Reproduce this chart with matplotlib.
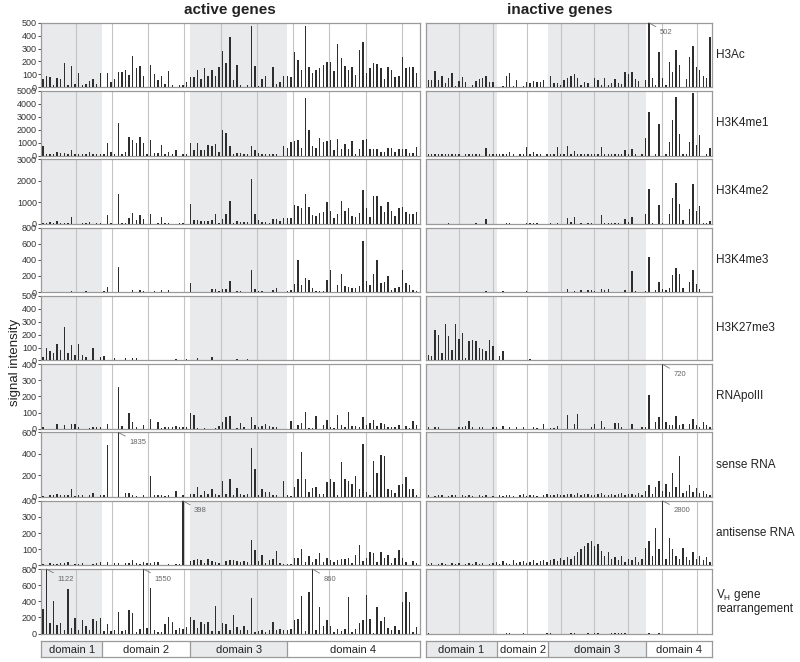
import numpy as np
import matplotlib
matplotlib.use("Agg")
import matplotlib.pyplot as plt

plt.rcParams['font.family'] = ['Liberation Sans', 'DejaVu Sans']

# ---- data: one value per probe position (active: 105, inactive: 84) ----
h3ac_act = [60,90,80,20,72,67,184,20,168,28, 108,20,28,46,65,23,108,0,108,44,
            60,116,116,137,98,240,145,168,85,0, 173,101,52,88,28,122,20,0,20,18,
            41,80,80,132,60,145,85,137,88,160, 277,189,386,52,173,20,0,18,476,168,
            13,60,90,0,160,28,41,85,85,80, 272,212,137,476,153,108,137,150,173,194,
            199,124,337,225,168,132,160,93,285,350, 108,145,189,181,145,62,160,132,80,88,
            236,145,160,153,111]
h3k4me1_act = [700,100,100,100,260,180,180,100,410,100, 100,100,100,260,100,100,100,100,980,310,
               100,2530,100,280,1420,1210,980,1470,1000,100, 1190,200,200,830,100,310,100,390,0,100,
               100,980,440,980,410,440,830,700,900,280, 1960,1730,750,100,180,180,100,100,770,410,
               180,100,100,100,100,100,0,700,570,1080, 1160,1210,570,4440,1960,700,570,1370,1060,1160,
               1210,410,1260,490,900,490,1160,100,490,1240, 1290,540,490,540,280,280,570,620,310,490,
               520,540,200,200,650]
h3k4me2_act = [30,30,80,30,110,30,60,30,300,0, 0,60,30,90,0,30,30,0,420,60,
               0,1400,30,60,250,515,190,390,220,0, 440,0,30,300,60,60,0,0,30,30,
               0,920,170,170,125,125,125,190,450,60, 235,440,1060,30,125,80,80,80,2070,470,
               155,80,80,60,220,220,125,250,250,250, 860,830,730,1400,780,420,375,500,545,1000,
               580,265,470,1045,610,730,375,310,500,1560, 750,300,1280,1310,840,545,1000,590,340,750,
               780,545,440,470,545]
h3k4me3_act = [0,0,0,0,0,0,0,0,13,0, 0,0,13,0,0,0,0,13,59,0,
               0,312,0,0,0,25,0,25,13,0, 0,13,0,25,0,25,0,0,0,0,
               0,110,0,0,0,0,0,34,34,17, 42,34,135,0,13,13,0,0,278,34,
               13,13,0,0,25,46,0,0,13,30, 97,400,84,181,156,46,13,17,17,156,
               274,0,84,227,72,63,46,46,72,636, 143,93,227,396,114,126,202,30,46,59,
               274,114,84,21,13]
h3k27me3_act = [26,93,70,60,130,78,259,60,122,39, 127,39,28,0,98,0,28,34,0,0,
                18,0,0,16,0,16,16,0,0,0, 0,0,0,0,0,0,0,10,0,0,
                10,0,0,16,0,0,0,28,0,0, 0,0,0,0,10,0,0,10,0,5,
                0,0,0,0,0,0,0,0,0,0, 0,0,0,0,0,0,0,0,0,0,
                0,0,0,0,0,0,0,0,0,0, 0,0,0,0,0,0,0,0,0,0,
                0,0,0,0,0]
rnapol_act = [8,0,0,0,29,0,23,0,31,31, 8,0,0,6,8,12,8,0,31,0,
              0,261,19,0,100,42,8,0,25,0, 59,0,42,6,8,8,12,16,8,8,
              10,100,86,4,0,4,0,0,4,17, 42,75,79,0,6,33,12,0,75,21,
              13,17,29,17,13,12,0,0,0,48, 0,23,38,104,6,6,77,0,23,54,
              12,6,86,21,12,104,16,19,12,75, 21,36,56,16,36,31,12,10,8,21,
              0,16,6,46,23]
sense_act = [10,0,20,15,28,18,15,20,73,12, 20,15,0,15,41,0,15,20,483,0,
             0,1835,0,41,41,20,12,0,15,0, 193,15,20,15,12,20,0,57,0,15,
             0,25,25,95,15,57,25,70,25,15, 149,25,164,15,82,25,15,25,452,262,
             20,73,47,50,15,20,0,149,15,12, 95,168,414,168,47,88,95,25,25,142,
             168,136,15,325,168,152,120,193,73,490, 47,15,338,224,389,379,73,63,41,111,
             120,183,79,73,20]
antisense_act = [11,0,17,10,10,14,14,21,0,10, 10,14,0,0,10,14,21,0,19,0,
                 14,14,0,17,14,32,14,10,21,14, 14,21,21,0,0,5,0,8,5,398,
                 0,26,34,36,32,17,41,28,21,14, 0,28,34,30,28,21,26,21,154,96,
                 28,64,14,30,36,86,14,8,8,6, 47,43,103,19,58,21,36,79,21,43,
                 30,21,32,36,36,47,17,64,128,26, 43,81,79,21,83,47,64,17,43,96,
                 43,21,0,26,14]
vh_act = [307,1122,133,402,104,133,42,552,75,191, 42,166,91,42,178,154,191,29,116,29,
          50,274,29,46,290,261,17,58,1550,71, 568,50,17,17,116,203,145,50,71,62,
          83,203,166,75,145,124,145,29,344,29, 133,116,50,228,83,42,100,50,436,17,
          29,42,17,42,141,42,58,50,42,58, 174,187,469,29,515,860,42,332,100,166,
          100,17,58,29,58,448,17,58,133,166, 477,187,12,332,154,207,71,50,100,42,
          390,519,394,17,83]

h3ac_inact = [59,54,128,54,85,33,69,113,8,46, 79,44,0,20,46,64,69,85,44,38,
              0,0,13,85,110,13,56,0,8,44, 33,51,38,44,56,0,90,33,33,20,
              59,72,90,103,72,20,38,33,0,72, 59,20,72,20,33,64,33,28,121,103,
              121,64,46,0,54,502,69,18,269,69, 20,197,121,285,169,0,64,236,318,160,
              133,85,69,392]
h3k4me1_inact = [100,150,100,100,100,100,150,100,100,100, 0,100,150,100,100,100,0,610,100,100,
                 100,100,100,100,300,100,0,100,100,685, 100,300,100,100,0,100,100,100,685,100,
                 100,760,100,380,100,100,100,100,100,100, 100,685,100,100,150,100,150,100,430,100,
                 480,100,0,100,1345,3350,0,100,2410,0, 100,1040,2770,4540,1675,100,100,1040,4870,810,
                 1625,0,100,560]
h3k4me2_inact = [0,0,0,0,0,0,30,0,0,0, 0,0,0,0,30,0,0,218,0,0,
                 0,0,0,60,30,0,0,0,0,30, 40,30,30,0,0,0,30,0,30,0,
                 0,264,78,295,0,30,0,30,30,0, 0,390,30,30,30,30,30,0,200,78,
                 295,0,0,0,466,1630,30,0,886,60, 0,435,1180,1900,917,170,0,670,1835,575,
                 840,30,30,140]
h3k4me3_inact = [0,0,0,0,0,0,0,0,0,0, 0,0,0,0,0,0,0,8,0,0,
                 0,0,8,0,0,0,0,0,0,8, 0,0,0,0,0,0,0,0,0,0,
                 0,42,0,8,0,20,0,25,25,15, 0,33,20,33,0,0,0,0,20,0,
                 267,8,0,0,15,430,0,20,120,35, 20,50,212,296,225,50,0,130,275,96,
                 42,0,0,0]
h3k27me3_inact = [42,34,234,198,57,279,190,83,279,167, 211,18,154,156,151,99,91,70,159,115,
                  0,34,70,5,5,5,5,0,0,0, 10,0,0,0,0,0,0,5,0,5,
                  0,0,0,0,5,0,0,0,0,5, 5,0,0,0,5,0,5,0,5,0,
                  0,0,0,5,0,0,0,0,0,0, 0,0,0,0,0,0,0,0,0,0,
                  0,0,5,0]
rnapol_inact = [10,0,10,12,0,0,0,0,0,10, 10,15,45,10,0,10,10,0,0,10,
                10,0,15,0,10,0,10,0,10,0, 0,10,6,0,27,0,6,6,15,0,
                0,87,0,27,93,0,0,0,10,27, 0,45,10,0,0,35,35,10,0,0,
                27,0,0,10,10,207,0,39,72,720, 39,23,23,77,23,31,0,31,60,20,
                10,39,23,10]
sense_inact = [15,0,10,20,15,0,10,15,20,0, 15,10,20,10,0,15,10,20,0,10,
               0,15,10,20,15,10,0,20,25,10, 15,20,10,0,15,25,15,20,30,15,
               20,25,30,15,35,20,25,30,20,15, 25,35,20,15,30,20,25,35,15,25,
               30,20,40,15,60,110,30,90,150,60, 120,50,220,90,380,40,60,110,50,80,
               40,60,30,20]
antisense_inact = [10,15,0,10,15,10,0,15,10,15, 0,10,15,10,20,10,15,0,10,15,
                   20,10,25,15,10,30,15,20,25,15, 20,30,15,25,35,20,30,40,25,45,
                   30,50,40,60,80,100,120,140,150,120, 130,90,60,80,40,50,30,60,20,40,
                   30,50,20,40,110,150,60,230,100,2800, 40,170,100,60,40,110,50,30,80,40,
                   60,30,50,20]
vh_inact = [8,0,0,0,0,0,0,0,0,0, 0,0,0,0,0,0,0,0,0,0,
            0,0,0,8,8,0,0,0,8,0, 0,0,0,0,0,8,8,0,0,0,
            0,0,8,8,0,0,0,8,0,8, 8,0,0,0,8,8,8,8,8,0,
            0,0,0,0,0,8,0,0,8,0, 0,0,0,0,0,0,0,0,0,0,
            0,0,0,0]

row_labels = ['H3Ac', 'H3K4me1', 'H3K4me2', 'H3K4me3', 'H3K27me3', 'RNApolII',
              'sense RNA', 'antisense RNA', 'V$_\\mathregular{H}$ gene\nrearrangement']
row_max = [500, 5000, 3000, 800, 500, 400, 600, 400, 800]
row_step = [100, 1000, 1000, 200, 100, 100, 200, 100, 200]
active = [h3ac_act, h3k4me1_act, h3k4me2_act, h3k4me3_act, h3k27me3_act,
          rnapol_act, sense_act, antisense_act, vh_act]
inactive = [h3ac_inact, h3k4me1_inact, h3k4me2_inact, h3k4me3_inact, h3k27me3_inact,
            rnapol_inact, sense_inact, antisense_inact, vh_inact]

# off-scale bars that carry their true value as a label: (row, side, index)
callouts = [(0, 1, 65), (5, 1, 69), (6, 0, 21), (7, 0, 39), (7, 1, 69),
            (8, 0, 1), (8, 0, 28), (8, 0, 75)]

domain_names = ['domain 1', 'domain 2', 'domain 3', 'domain 4']
domain_edges_act = [-0.5, 16.6, 41.0, 67.9, 104.9]
domain_edges_inact = [-0.7, 20.2, 35.4, 64.1, 83.6]
grid_act = [9.3, 19.2, 29.2, 39.2, 49.5, 59.6, 69.5, 79.5, 89.9, 99.9]
grid_inact = [9.05, 19.0, 29.0, 39.0, 48.9, 58.9, 69.0, 79.1]

# ---- layout in pixels ----
W, H = 800, 662
def rect(x0, y0, x1, y1):
    return [x0 / W, 1 - y1 / H, (x1 - x0) / W, (y1 - y0) / H]

panels = [(41, 420, domain_edges_act, grid_act, active),
          (426, 712, domain_edges_inact, grid_inact, inactive)]
shade = '#e9eaec'
edge = '#9a9a9a'

fig = plt.figure(figsize=(8, 6.62), dpi=100)

axes = {}
for r in range(9):
    top = 22.7 + 68.3 * r
    for side, (x0, x1, edges, grid, series) in enumerate(panels):
        ax = fig.add_axes(rect(x0, top, x1, top + 64.5))
        vals = np.array(series[r], dtype=float)
        x = np.arange(len(vals))
        ymax = row_max[r]
        # shaded domains 1 and 3
        for k in (0, 2):
            ax.axvspan(edges[k], edges[k + 1], color=shade, lw=0, zorder=0)
        for g in grid:
            ax.axvline(g, color='#c4c4c4', lw=0.8, zorder=1)
        ax.bar(x, np.minimum(vals, ymax), width=0.4, color='#2e2e2e', lw=0, zorder=3)
        ax.set_xlim(edges[0], edges[-1])
        ax.set_ylim(0, ymax)
        ax.set_xticks([])
        for s in ax.spines.values():
            s.set_color(edge)
            s.set_linewidth(0.9)
        if side == 0:
            ax.set_yticks(np.arange(0, ymax + 1, row_step[r]))
            ax.tick_params(axis='y', labelsize=6.5, length=2, width=0.6,
                           colors='#333333', pad=1)
        else:
            ax.set_yticks([])
            fig.text(716 / W, 1 - (top + 32) / H, row_labels[r], fontsize=8.5,
                     ha='left', va='center', color='#222222', linespacing=1.0)
        axes[(r, side)] = ax

for r, side, i in callouts:
    ax = axes[(r, side)]
    val = (active if side == 0 else inactive)[r][i]
    ax.annotate(f'{val}', xy=(i, row_max[r]), xytext=(11, -10),
                textcoords='offset pixels', fontsize=5.5, color='#666666',
                ha='left', va='center', annotation_clip=False, zorder=5,
                arrowprops=dict(arrowstyle='-', color='#777777', lw=0.6,
                                shrinkA=1, shrinkB=0))

# domain strips
for x0, x1, edges, grid, series in panels:
    ax = fig.add_axes(rect(x0, 640.5, x1, 657))
    for k, name in enumerate(domain_names):
        ax.axvspan(edges[k], edges[k + 1], color=shade if k % 2 == 0 else 'white', lw=0)
        if k > 0:
            ax.axvline(edges[k], color=edge, lw=0.9)
        ax.text((edges[k] + edges[k + 1]) / 2, 0.45, name, ha='center', va='center',
                fontsize=8, color='#222222')
    ax.set_xlim(edges[0], edges[-1])
    ax.set_ylim(0, 1)
    ax.set_xticks([])
    ax.set_yticks([])
    for s in ax.spines.values():
        s.set_color(edge)
        s.set_linewidth(0.9)

fig.text(230 / W, 1 - 10 / H, 'active genes', fontsize=11, fontweight='bold',
         ha='center', va='center', color='#222222')
fig.text(560 / W, 1 - 10 / H, 'inactive genes', fontsize=11, fontweight='bold',
         ha='center', va='center', color='#222222')
fig.text(15 / W, 1 - 362 / H, 'signal intensity', fontsize=9.5, rotation=90,
         ha='center', va='center', color='#222222')

fig.savefig('out.png', dpi=100)
